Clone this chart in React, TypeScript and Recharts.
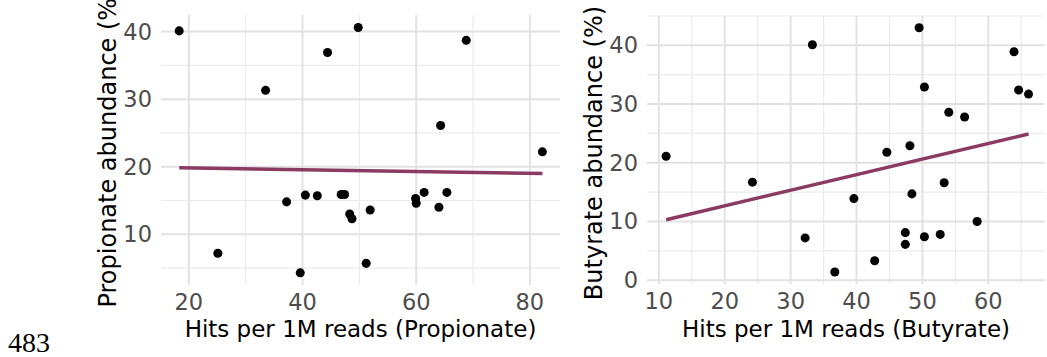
import {
  ScatterChart,
  Scatter,
  XAxis,
  YAxis,
  CartesianGrid,
  ReferenceLine,
} from "recharts";

// Propionate panel
const propHits = [
  18.3, 25.1, 33.5, 37.2, 39.6, 40.5, 42.6, 44.4, 46.8, 47.4, 48.3, 48.7,
  49.8, 51.2, 51.9, 59.9, 60.0, 61.4, 64.0, 64.3, 65.4, 68.8, 82.2,
];
const propAbund = [
  40.1, 7.2, 31.3, 14.8, 4.3, 15.8, 15.7, 36.9, 15.9, 15.9, 13.0, 12.3, 40.6,
  5.7, 13.6, 15.3, 14.6, 16.2, 14.0, 26.1, 16.2, 38.7, 22.2,
];
const propFitX = [18.3, 82.2];
const propFitY = [19.85, 19.0];
const propXTicks = [20, 40, 60, 80];
const propXMinor = [30, 50, 70];
const propYTicks = [10, 20, 30, 40];
const propYMinor = [5, 15, 25, 35];

// Butyrate panel
const butHits = [
  11.1, 24.2, 32.2, 33.3, 36.7, 39.6, 42.75, 44.6, 47.4, 47.4, 48.1, 48.4,
  49.5, 50.3, 50.3, 52.7, 53.3, 54.0, 56.4, 58.3, 63.9, 64.6, 66.1,
];
const butAbund = [
  21.1, 16.7, 7.2, 40.1, 1.4, 13.9, 3.3, 21.8, 8.1, 6.1, 22.9, 14.7, 43.0,
  32.9, 7.4, 7.8, 16.6, 28.6, 27.8, 10.0, 38.9, 32.4, 31.7,
];
const butFitX = [11.1, 66.1];
const butFitY = [10.3, 24.9];
const butXTicks = [10, 20, 30, 40, 50, 60];
const butXMinor = [15, 25, 35, 45, 55, 65];
const butYTicks = [0, 10, 20, 30, 40];
const butYMinor = [5, 15, 25, 35, 45];

const FIT_COLOR = "#8b3a62";
const TICK_COLOR = "#4d4d4d";
const Y_AXIS_W = 50;
const X_AXIS_H = 30;
const CHART_H = 357;

interface PanelProps {
  left: number;
  width: number;
  margin: { top: number; right: number; bottom: number; left: number };
  hits: number[];
  abund: number[];
  fitX: number[];
  fitY: number[];
  xDomain: [number, number];
  yDomain: [number, number];
  xTicks: number[];
  xMinor: number[];
  yTicks: number[];
  yMinor: number[];
  xTitle: string;
  yTitle: string;
  yTitleShift: number;
}

function Panel(p: PanelProps) {
  const data = p.hits.map((x, i) => ({ x, y: p.abund[i] }));
  const plotLeft = p.margin.left + Y_AXIS_W;
  const plotRight = p.width - p.margin.right;
  const plotTop = p.margin.top;
  const plotBottom = CHART_H - p.margin.bottom - X_AXIS_H;

  const xTitle = () => (
    <text
      x={(plotLeft + plotRight) / 2}
      y={337}
      textAnchor="middle"
      fontSize={23}
      fill="#000"
    >
      {p.xTitle}
    </text>
  );

  const yTitle = () => {
    const cx = plotLeft - 45;
    const cy = (plotTop + plotBottom) / 2 + p.yTitleShift;
    return (
      <text
        x={cx}
        y={cy}
        transform={`rotate(-90, ${cx}, ${cy})`}
        textAnchor="middle"
        fontSize={24}
        fill="#000"
      >
        {p.yTitle}
      </text>
    );
  };

  return (
    <div style={{ position: "absolute", left: p.left, top: 0 }}>
      <ScatterChart width={p.width} height={CHART_H} margin={p.margin}>
        <CartesianGrid
          stroke="#ebebeb"
          strokeWidth={1.2}
          verticalValues={p.xMinor}
          horizontalValues={p.yMinor}
        />
        <CartesianGrid
          stroke="#e2e2e2"
          strokeWidth={2}
          verticalValues={p.xTicks}
          horizontalValues={p.yTicks}
        />
        <XAxis
          dataKey="x"
          type="number"
          domain={p.xDomain}
          allowDataOverflow
          ticks={p.xTicks}
          axisLine={false}
          tickLine={false}
          tickMargin={3}
          height={X_AXIS_H}
          tick={{ fill: TICK_COLOR, fontSize: 22.5 }}
          label={xTitle}
        />
        <YAxis
          dataKey="y"
          type="number"
          domain={p.yDomain}
          allowDataOverflow
          ticks={p.yTicks}
          axisLine={false}
          tickLine={false}
          tickMargin={3}
          width={Y_AXIS_W}
          tick={{ fill: TICK_COLOR, fontSize: 22.5 }}
          label={yTitle}
        />
        <ReferenceLine
          segment={[
            { x: p.fitX[0], y: p.fitY[0] },
            { x: p.fitX[1], y: p.fitY[1] },
          ]}
          stroke={FIT_COLOR}
          strokeWidth={3.5}
        />
        <Scatter
          data={data}
          fill="#000"
          shape="circle"
          isAnimationActive={false}
        />
      </ScatterChart>
    </div>
  );
}

export default function App() {
  return (
    <div
      style={{
        position: "absolute",
        left: 0,
        top: 0,
        width: 1047,
        height: 357,
        background: "#fff",
        fontFamily: "'DejaVu Sans', sans-serif",
        overflow: "hidden",
      }}
    >
      <Panel
        left={0}
        width={600}
        margin={{ top: 15, right: 40, bottom: 42, left: 111 }}
        hits={propHits}
        abund={propAbund}
        fitX={propFitX}
        fitY={propFitY}
        xDomain={[15.1, 85.3]}
        yDomain={[2.5, 42.45]}
        xTicks={propXTicks}
        xMinor={propXMinor}
        yTicks={propYTicks}
        yMinor={propYMinor}
        xTitle="Hits per 1M reads (Propionate)"
        yTitle="Propionate abundance (%)"
        yTitleShift={-2}
      />
      <Panel
        left={560}
        width={487}
        margin={{ top: 16, right: 2, bottom: 43, left: 37 }}
        hits={butHits}
        abund={butAbund}
        fitX={butFitX}
        fitY={butFitY}
        xDomain={[8.2, 68.6]}
        yDomain={[-0.65, 45.0]}
        xTicks={butXTicks}
        xMinor={butXMinor}
        yTicks={butYTicks}
        yMinor={butYMinor}
        xTitle="Hits per 1M reads (Butyrate)"
        yTitle="Butyrate abundance (%)"
        yTitleShift={3}
      />
      <div
        style={{
          position: "absolute",
          left: 8,
          top: 329,
          fontFamily: "'Liberation Serif', serif",
          fontSize: 28,
          lineHeight: "28px",
          color: "#000",
        }}
      >
        483
      </div>
    </div>
  );
}
